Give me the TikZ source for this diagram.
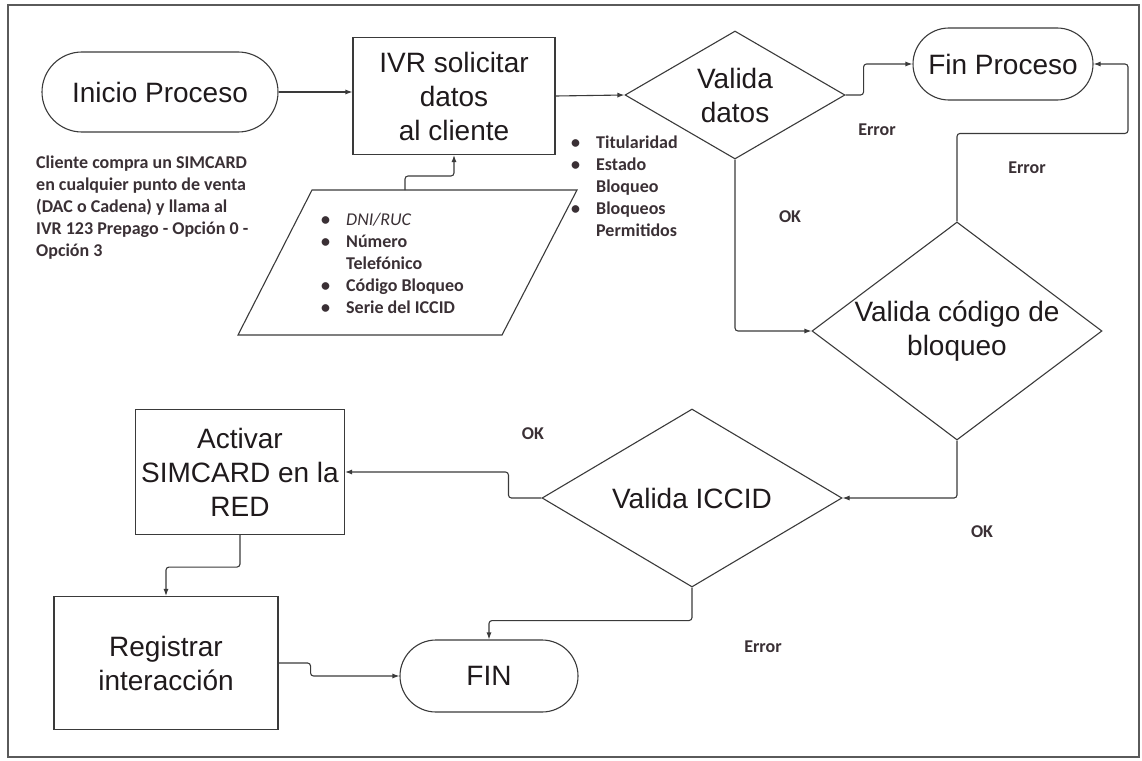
\documentclass[tikz,border=0pt]{standalone}
\usepackage{fontspec}
\setmainfont{Liberation Sans}
\newfontfamily\notefont{Carlito}
\usetikzlibrary{shapes.geometric,shapes.misc,arrows.meta}

\definecolor{linegray}{HTML}{3A3A3A}
\definecolor{textblack}{HTML}{1F1A1C}
\definecolor{notegray}{HTML}{3A3035}
\definecolor{framegray}{HTML}{5A5A5A}

\newcommand{\bul}{\makebox[25pt][l]{\textbullet}}
\newcommand{\nob}{\hspace*{25pt}}

\tikzset{
  line/.style={draw=linegray, line width=1.1pt},
  arrow/.style={line, -{Latex[length=7pt,width=5pt]}, rounded corners=3pt},
  bigtext/.style={font=\fontsize{28}{34}\selectfont, text=textblack, align=center},
  proc/.style={line, rectangle, inner sep=0pt, bigtext},
  term/.style={line, rounded rectangle, inner sep=0pt, bigtext},
  decision/.style={line, diamond, inner sep=0pt},
  note/.style={font=\notefont\bfseries\fontsize{18}{22}\selectfont, text=notegray, align=left, inner sep=0pt},
}

\begin{document}
\begin{tikzpicture}[x=1pt, y=-1pt]
  \useasboundingbox (0,0) rectangle (1142,760);
  \draw[framegray, line width=1.4pt] (8,5) rectangle (1139,757);

  % nodos del flujo
  \node[term, minimum width=236, minimum height=80] (inicio) at (160,92) {Inicio Proceso};
  \node[proc, minimum width=202, minimum height=117] (ivr) at (454,96) {IVR solicitar\\datos\\al cliente};
  \node[decision, minimum width=220, minimum height=128, label={[bigtext]center:{Valida\\datos}}] (vdatos) at (735,95) {};
  \node[term, minimum width=180, minimum height=72] (finproc) at (1003,64) {Fin Proceso};
  \node[decision, minimum width=290, minimum height=218, label={[bigtext]center:{Valida código de\\bloqueo}}] (vcodigo) at (957,331) {};
  \node[decision, minimum width=300, minimum height=178, label={[bigtext]center:{Valida ICCID}}] (viccid) at (692,498) {};
  \node[proc, minimum width=209, minimum height=125] (activar) at (240,472) {Activar\\SIMCARD en la\\RED};
  \node[proc, minimum width=224, minimum height=133] (registrar) at (166,663) {Registrar\\interacción};
  \node[term, minimum width=178, minimum height=72] (fin) at (489,676) {FIN};

  % datos de entrada (paralelogramo)
  \coordinate (dnw) at (312,190);
  \coordinate (dne) at (577,190);
  \coordinate (dse) at (502,335);
  \coordinate (dsw) at (238,335);
  \draw[line] (dsw) -- (dnw) -- (dne) -- (dse) -- cycle;

  % textos
  \node[note, anchor=north west] (cliente) at (36,156) {Cliente compra un SIMCARD\\en cualquier punto de venta\\(DAC o Cadena) y llama al\\IVR 123 Prepago - Opción 0 -\\Opción 3};
  \node[note, anchor=north west] (campos) at (321,213) {\bul\textmd{\textit{DNI/RUC}}\\\bul Número\\\nob Telefónico\\\bul Código Bloqueo\\\bul Serie del ICCID};
  \node[note, anchor=north west] (checks) at (571,136) {\bul Titularidad\\\bul Estado\\\nob Bloqueo\\\bul Bloqueos\\\nob Permitidos};
  \node[note] (err1) at (877,130) {Error};
  \node[note] (err2) at (1027,168) {Error};
  \node[note] (ok1) at (790,217) {OK};
  \node[note] (ok2) at (982,532) {OK};
  \node[note] (ok3) at (533,434) {OK};
  \node[note] (err3) at (763,647) {Error};

  % conectores
  \coordinate (dtop) at (405,190);
  \draw[arrow] (inicio.east) -- (ivr.west |- inicio.east);
  \draw[arrow] (dtop) -- ++(0,-14) -| (ivr.south);
  \draw[arrow] (ivr.east) -- (vdatos.west);
  \draw[arrow] (vdatos.east) -- ++(18,0) |- (finproc.west);
  \draw[arrow] (vdatos.south) |- (vcodigo.west);
  \draw[arrow] (vcodigo.north) |- ++(171,-88) |- (finproc.east);
  \draw[arrow] (vcodigo.south) |- (viccid.east);
  \draw[arrow] (viccid.west) -- ++(-33,0) |- (activar.east);
  \draw[arrow] (activar.south) -- ++(0,32) -| (registrar.north);
  \draw[arrow] (registrar.east) -- ++(32,0) |- (fin.west);
  \draw[arrow] (viccid.south) -- ++(0,33) -| (fin.north);
\end{tikzpicture}
\end{document}
